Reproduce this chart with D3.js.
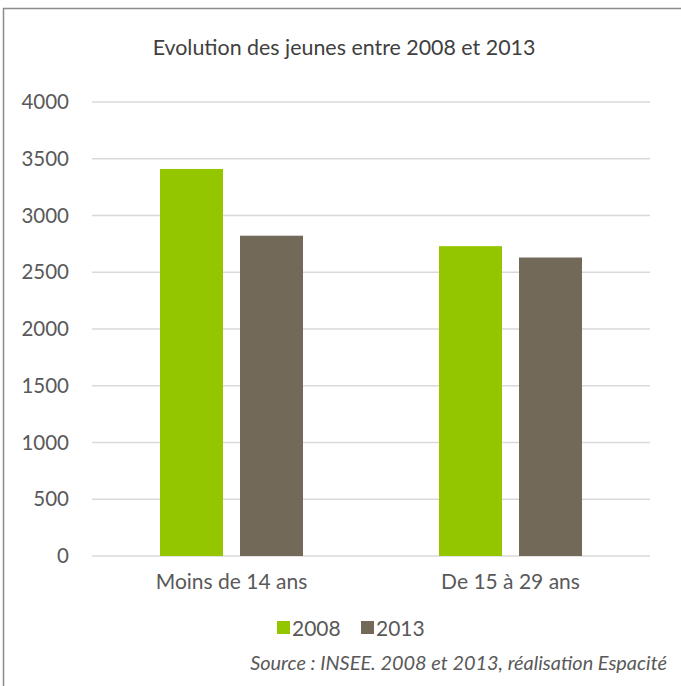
<!DOCTYPE html>
<html>
<head>
<meta charset="utf-8">
<script src="https://cdn.jsdelivr.net/npm/d3@7"></script>
<style>
  body { margin: 0; background: #fff; }
  svg { display: block; font-family: Lato, "Open Sans", sans-serif; }
</style>
</head>
<body>
<div id="chart"></div>
<script>
(function () {
  'use strict';

  const CATEGORIES = ['Moins de 14 ans', 'De 15 à 29 ans'];
  const SERIES = ['2008', '2013'];
  const VALUES_2008 = [3410, 2730];
  const VALUES_2013 = [2822, 2630];
  const Y_TICKS = [0, 500, 1000, 1500, 2000, 2500, 3000, 3500, 4000];
  const COLORS = ['#94c600', '#736958'];
  const FONT = 'Lato, "Open Sans", sans-serif';

  const width = 681, height = 686;
  const margin = { top: 102, right: 31, bottom: 130, left: 92 };
  const w = width - margin.left - margin.right;
  const h = height - margin.top - margin.bottom;

  const svg = d3.select('#chart').append('svg')
    .attr('width', width).attr('height', height);

  // frame (left + top edges visible)
  svg.append('path')
    .attr('d', 'M3.5,686 L3.5,8.5 L681,8.5')
    .attr('fill', 'none').attr('stroke', '#8c8c8c').attr('stroke-width', 1.5);

  svg.append('text')
    .attr('x', 344).attr('y', 55)
    .attr('text-anchor', 'middle').attr('fill', '#404040')
    .attr('font-size', 21.4)
    .text('Evolution des jeunes entre 2008 et 2013');

  const g = svg.append('g').attr('transform', `translate(${margin.left},${margin.top})`);

  const y = d3.scaleLinear().domain([0, 4000]).range([h, 0]);
  const x0 = d3.scaleBand().domain(CATEGORIES).range([0, w]).paddingInner(0).paddingOuter(0);
  const x1 = d3.scaleBand().domain(SERIES).range([0, x0.bandwidth()]).paddingInner(0.2125).paddingOuter(0.85);

  // gridlines
  g.append('g').selectAll('line').data(Y_TICKS).join('line')
    .attr('x1', 0).attr('x2', w)
    .attr('y1', d => y(d)).attr('y2', d => y(d))
    .attr('stroke', '#d9d9d9').attr('stroke-width', 1.5);

  // y labels
  const yAxis = g.append('g')
    .call(d3.axisLeft(y).tickValues(Y_TICKS).tickFormat(d3.format('d')).tickSize(0).tickPadding(23));
  yAxis.select('.domain').remove();
  yAxis.selectAll('text').attr('fill', '#595959').attr('font-size', 20.5).attr('font-family', FONT);

  // bars
  const data = CATEGORIES.map((c, i) => ({ cat: c, vals: [VALUES_2008[i], VALUES_2013[i]] }));
  const groups = g.append('g').selectAll('g').data(data).join('g')
    .attr('transform', d => `translate(${x0(d.cat)},0)`);
  groups.selectAll('rect').data(d => d.vals.map((v, j) => ({ s: SERIES[j], v, j }))).join('rect')
    .attr('x', d => x1(d.s)).attr('width', x1.bandwidth())
    .attr('y', d => y(d.v)).attr('height', d => h - y(d.v))
    .attr('fill', d => COLORS[d.j]);

  // x labels
  const xAxis = g.append('g').attr('transform', `translate(0,${h})`)
    .call(d3.axisBottom(x0).tickSize(0).tickPadding(18));
  xAxis.select('.domain').remove();
  xAxis.selectAll('text').attr('fill', '#595959').attr('font-size', 21).attr('font-family', FONT);

  // legend
  const legend = svg.append('g').attr('transform', 'translate(277,620)');
  const lx = [0, 84];
  SERIES.forEach((s, i) => {
    legend.append('rect').attr('x', lx[i]).attr('y', 1).attr('width', 13).attr('height', 13)
      .attr('fill', COLORS[i]);
    legend.append('text').attr('x', lx[i] + 15).attr('y', 15.5)
      .attr('fill', '#595959').attr('font-size', 21).text(s);
  });

  svg.append('text')
    .attr('x', 667).attr('y', 670)
    .attr('text-anchor', 'end').attr('fill', '#595959')
    .attr('font-size', 19.9).attr('font-style', 'italic')
    .text('Source : INSEE. 2008 et 2013, réalisation Espacité');
})();
</script>
</body>
</html>
